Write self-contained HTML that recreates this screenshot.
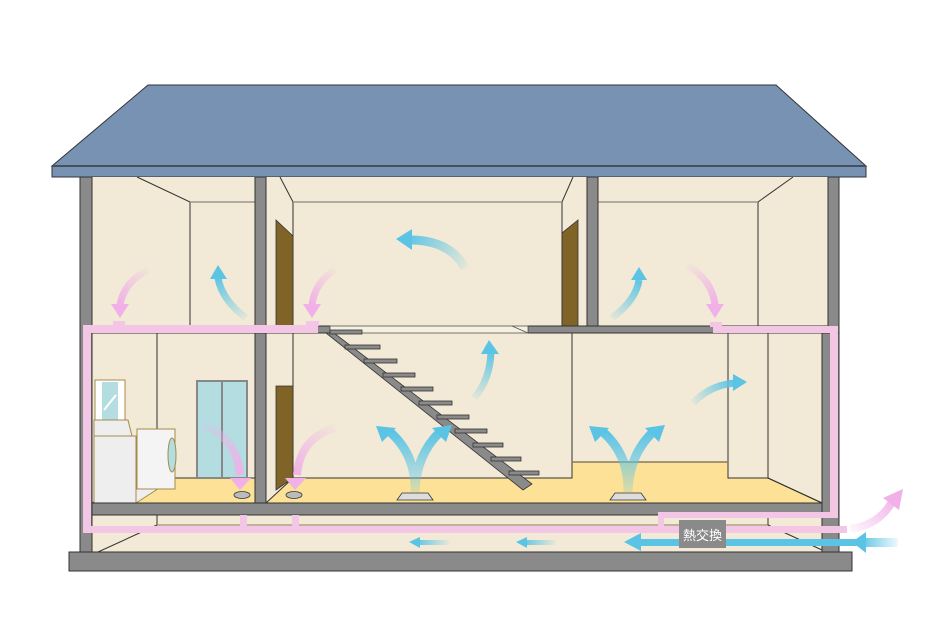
<!DOCTYPE html>
<html><head><meta charset="utf-8"><style>html,body{margin:0;padding:0;background:#fff}svg{display:block}</style></head>
<body>
<svg width="926" height="625" viewBox="0 0 926 625" xmlns="http://www.w3.org/2000/svg">
<defs>
<linearGradient id="b1" gradientUnits="userSpaceOnUse" x1="465" y1="268" x2="405" y2="239"><stop offset="0" stop-color="#5bc4e5" stop-opacity="0.1"/><stop offset="1" stop-color="#5bc4e5"/></linearGradient>
<linearGradient id="b2" gradientUnits="userSpaceOnUse" x1="246" y1="318" x2="218" y2="275"><stop offset="0" stop-color="#5bc4e5" stop-opacity="0.1"/><stop offset="1" stop-color="#5bc4e5"/></linearGradient>
<linearGradient id="b3" gradientUnits="userSpaceOnUse" x1="612" y1="318" x2="638" y2="278"><stop offset="0" stop-color="#5bc4e5" stop-opacity="0.1"/><stop offset="1" stop-color="#5bc4e5"/></linearGradient>
<linearGradient id="b4" gradientUnits="userSpaceOnUse" x1="474" y1="398" x2="491" y2="350"><stop offset="0" stop-color="#5bc4e5" stop-opacity="0.1"/><stop offset="1" stop-color="#5bc4e5"/></linearGradient>
<linearGradient id="b5" gradientUnits="userSpaceOnUse" x1="693" y1="403" x2="735" y2="383"><stop offset="0" stop-color="#5bc4e5" stop-opacity="0.1"/><stop offset="1" stop-color="#5bc4e5"/></linearGradient>
<linearGradient id="by" gradientUnits="objectBoundingBox" x1="0" y1="1" x2="0" y2="0"><stop offset="0" stop-color="#5bc4e5" stop-opacity="0.2"/><stop offset="1" stop-color="#5bc4e5"/></linearGradient>
<linearGradient id="bin" gradientUnits="userSpaceOnUse" x1="898" y1="0" x2="860" y2="0"><stop offset="0" stop-color="#5bc4e5" stop-opacity="0.1"/><stop offset="1" stop-color="#5bc4e5"/></linearGradient>
<linearGradient id="bd1" gradientUnits="userSpaceOnUse" x1="450" y1="0" x2="415" y2="0"><stop offset="0" stop-color="#5bc4e5" stop-opacity="0.05"/><stop offset="1" stop-color="#5bc4e5"/></linearGradient>
<linearGradient id="bd2" gradientUnits="userSpaceOnUse" x1="556" y1="0" x2="522" y2="0"><stop offset="0" stop-color="#5bc4e5" stop-opacity="0.05"/><stop offset="1" stop-color="#5bc4e5"/></linearGradient>
<linearGradient id="p1" gradientUnits="userSpaceOnUse" x1="148" y1="270" x2="120" y2="305"><stop offset="0" stop-color="#f1b0e8" stop-opacity="0.1"/><stop offset="1" stop-color="#f1b0e8"/></linearGradient>
<linearGradient id="p2" gradientUnits="userSpaceOnUse" x1="335" y1="270" x2="312" y2="305"><stop offset="0" stop-color="#f1b0e8" stop-opacity="0.1"/><stop offset="1" stop-color="#f1b0e8"/></linearGradient>
<linearGradient id="p3" gradientUnits="userSpaceOnUse" x1="688" y1="266" x2="715" y2="305"><stop offset="0" stop-color="#f1b0e8" stop-opacity="0.1"/><stop offset="1" stop-color="#f1b0e8"/></linearGradient>
<linearGradient id="p4" gradientUnits="userSpaceOnUse" x1="203" y1="425" x2="240" y2="478"><stop offset="0" stop-color="#f1b0e8" stop-opacity="0.1"/><stop offset="1" stop-color="#f1b0e8"/></linearGradient>
<linearGradient id="p5" gradientUnits="userSpaceOnUse" x1="335" y1="428" x2="297" y2="478"><stop offset="0" stop-color="#f1b0e8" stop-opacity="0.1"/><stop offset="1" stop-color="#f1b0e8"/></linearGradient>
<linearGradient id="pout" gradientUnits="userSpaceOnUse" x1="850" y1="530" x2="898" y2="495"><stop offset="0" stop-color="#f1b0e8" stop-opacity="0.1"/><stop offset="1" stop-color="#f1b0e8"/></linearGradient>
</defs>

<!-- roof -->
<polygon points="148,85 776,85 866,166 52,166" fill="#7892b4" stroke="#333" stroke-width="1"/>
<rect x="52" y="166" width="814" height="11" fill="#7892b4" stroke="#333" stroke-width="1"/>
<line x1="52" y1="166" x2="866" y2="166" stroke="#44505e" stroke-width="2"/>

<!-- interior fill -->
<rect x="92" y="177" width="736" height="375" fill="#f2ead6"/>

<!-- 2F perspective lines -->
<g stroke="#333" stroke-width="1" fill="none">
<polyline points="137,177 190,202 255,202"/><line x1="190" y1="202" x2="190" y2="326"/>
<polyline points="280,177 293,202 562,202 573,177"/><line x1="293" y1="202" x2="293" y2="326"/><line x1="562" y1="202" x2="562" y2="326"/>
<polyline points="598,202 758,202 793,177"/><line x1="758" y1="202" x2="758" y2="326"/>
</g>
<g stroke="#888" stroke-width="1.2"><line x1="190" y1="202" x2="255" y2="202"/><line x1="293" y1="202" x2="562" y2="202"/><line x1="598" y1="202" x2="758" y2="202"/></g>
<!-- doors 2F -->
<polygon points="276,220 293,236 293,326 276,326" fill="#7f6327" stroke="#333" stroke-width="0.8"/>
<polygon points="578,220 562,233 562,326 578,326" fill="#7f6327" stroke="#333" stroke-width="0.8"/>

<!-- 1F -->
<g stroke="#333" stroke-width="1" fill="none">
<line x1="157" y1="333" x2="157" y2="478"/>
<line x1="293" y1="333" x2="293" y2="478"/>
<line x1="572" y1="333" x2="572" y2="462"/>
</g>
<polygon points="92,503 137,478 255,478 255,503" fill="#fde196" stroke="#333" stroke-width="1"/>
<polygon points="266,503 293,478 572,478 572,462 728,462 728,478 768,478 822,503" fill="#fde196" stroke="#333" stroke-width="1"/>
<rect x="728" y="333" width="40" height="145" fill="#f2ead6" stroke="#333" stroke-width="1"/>
<line x1="768" y1="478" x2="822" y2="503" stroke="#333"/>
<line x1="572" y1="462" x2="728" y2="462" stroke="#8a7a5a" stroke-width="1.5"/>
<!-- door 1F -->
<polygon points="276,386 293,386 293,478 276,490" fill="#7f6327" stroke="#333" stroke-width="0.8"/>

<!-- bathroom -->
<rect x="197" y="381" width="50" height="97" fill="#b3dde0" stroke="#888" stroke-width="2"/>
<line x1="222" y1="382" x2="222" y2="478" stroke="#888" stroke-width="2"/>
<rect x="95" y="380" width="30" height="42" fill="#fff" stroke="#a58a4a" stroke-width="1"/>
<rect x="102" y="382" width="16" height="38" fill="#b3dde0"/>
<line x1="104" y1="410" x2="116" y2="395" stroke="#fff" stroke-width="2"/>
<polygon points="94,420 128,420 132,436 94,436" fill="#eee" stroke="#a58a4a" stroke-width="1"/>
<rect x="94" y="436" width="42" height="67" fill="#eee" stroke="#a58a4a" stroke-width="1"/>
<polygon points="136,436 164,436 164,485 136,503" fill="#eee" stroke="#a58a4a" stroke-width="1"/>
<rect x="137" y="429" width="38" height="60" fill="#f4f4f4" stroke="#a58a4a" stroke-width="1"/>
<ellipse cx="172" cy="455" rx="4" ry="17" fill="#b3dde0" stroke="#a58a4a"/>

<!-- crawl space lines -->
<g stroke="#333" stroke-width="1" fill="none">
<line x1="157" y1="515" x2="157" y2="525"/><line x1="98" y1="552" x2="157" y2="525"/>
<line x1="157" y1="525" x2="768" y2="525" stroke="#8a7a5a"/>
<line x1="768" y1="515" x2="768" y2="525"/><line x1="768" y1="525" x2="822" y2="550"/>
</g>

<!-- walls -->
<g fill="#8a8a8a" stroke="#333" stroke-width="1">
<rect x="80" y="177" width="12" height="377"/>
<rect x="255" y="177" width="11" height="326"/>
<rect x="587" y="177" width="11" height="149"/>
<rect x="828" y="177" width="11" height="156"/>
<rect x="822" y="333" width="17" height="221"/>
<rect x="92" y="326" width="238" height="7"/>
<rect x="528" y="326" width="300" height="7"/>
<rect x="92" y="503" width="730" height="12"/>
<rect x="69" y="552" width="783" height="19"/>
</g>
<rect x="330" y="326" width="198" height="7" fill="#f5f0e0" stroke="#555" stroke-width="0.8"/>
<line x1="512" y1="326" x2="528" y2="333" stroke="#555" stroke-width="0.8"/>

<!-- stairs -->
<g fill="#8a8a8a" stroke="#333" stroke-width="0.8">
<polygon points="326,333 334,333 532,484 523,490"/>
<rect x="330" y="330" width="32" height="4"/>
<rect x="345" y="345" width="35" height="4"/>
<rect x="364" y="359" width="33" height="4"/>
<rect x="383" y="373" width="32" height="4"/>
<rect x="401" y="387" width="32" height="4"/>
<rect x="419" y="401" width="33" height="4"/>
<rect x="437" y="415" width="32" height="4"/>
<rect x="455" y="429" width="32" height="4"/>
<rect x="473" y="443" width="30" height="4"/>
<rect x="491" y="457" width="30" height="4"/>
<rect x="509" y="471" width="30" height="4"/>
</g>

<!-- pink ducts -->
<g fill="#f3c6e6">
<rect x="83" y="325" width="235" height="8"/>
<rect x="83" y="325" width="8" height="208"/>
<rect x="83" y="526" width="764" height="7"/>
<rect x="713" y="326" width="125" height="7"/>
<rect x="830" y="326" width="8" height="192"/>
<rect x="658" y="512" width="180" height="6"/>
<rect x="658" y="512" width="6" height="16"/>
<rect x="240" y="515" width="7" height="12"/>
<rect x="292" y="515" width="7" height="12"/>
<rect x="113" y="321" width="12" height="5"/>
<rect x="306" y="321" width="13" height="5"/>
<rect x="710" y="322" width="12" height="5"/>
</g>

<!-- vents -->
<ellipse cx="242" cy="495" rx="8" ry="3.5" fill="#bbb" stroke="#333" stroke-width="0.8"/>
<ellipse cx="294" cy="495" rx="8" ry="3.5" fill="#bbb" stroke="#333" stroke-width="0.8"/>
<polygon points="397,500 402,493 428,493 433,500" fill="#ddd" stroke="#333" stroke-width="0.8"/>
<polygon points="610,500 615,493 641,493 646,500" fill="#ddd" stroke="#333" stroke-width="0.8"/>

<!-- blue arrows -->
<path d="M465,268 Q450,240 410,240" stroke="url(#b1)" stroke-width="9" fill="none"/>
<polygon points="396,239 412,229 412,250" fill="#5bc4e5"/>
<path d="M246,318 Q222,300 218,278" stroke="url(#b2)" stroke-width="7" fill="none"/>
<polygon points="218,265 210,279 227,279" fill="#5bc4e5"/>
<path d="M612,318 Q636,300 639,280" stroke="url(#b3)" stroke-width="7" fill="none"/>
<polygon points="639,267 631,280 647,280" fill="#5bc4e5"/>
<path d="M474,398 Q490,380 491,352" stroke="url(#b4)" stroke-width="7" fill="none"/>
<polygon points="489,340 481,354 499,354" fill="#5bc4e5"/>
<path d="M693,403 Q710,385 735,383" stroke="url(#b5)" stroke-width="7" fill="none"/>
<polygon points="747,382 733,374 733,391" fill="#5bc4e5"/>
<g>
<path d="M415,492 Q416,455 390,432 M415,492 Q416,455 440,432" stroke="url(#by)" stroke-width="9" fill="none"/>
<polygon points="376,426 396,428 382,442" fill="#5bc4e5"/>
<polygon points="452,425 432,428 446,442" fill="#5bc4e5"/>
<path d="M628,492 Q629,455 603,432 M628,492 Q629,455 653,432" stroke="url(#by)" stroke-width="9" fill="none"/>
<polygon points="589,426 609,428 595,442" fill="#5bc4e5"/>
<polygon points="665,425 645,428 659,442" fill="#5bc4e5"/>
</g>

<!-- pink arrows -->
<path d="M148,270 Q124,282 120,305" stroke="url(#p1)" stroke-width="7" fill="none"/>
<polygon points="120,318 111,304 129,304" fill="#f1b0e8"/>
<path d="M335,270 Q315,282 312,305" stroke="url(#p2)" stroke-width="7" fill="none"/>
<polygon points="312,318 303,304 321,304" fill="#f1b0e8"/>
<path d="M688,266 Q712,280 715,305" stroke="url(#p3)" stroke-width="7" fill="none"/>
<polygon points="715,318 706,304 724,304" fill="#f1b0e8"/>
<path d="M203,425 Q237,438 240,475" stroke="url(#p4)" stroke-width="8" fill="none"/>
<polygon points="240,490 230,478 251,478" fill="#f1b0e8"/>
<path d="M335,428 Q300,438 297,475" stroke="url(#p5)" stroke-width="8" fill="none"/>
<polygon points="295,490 285,478 306,478" fill="#f1b0e8"/>
<path d="M850,529 Q880,525 893,500" stroke="url(#pout)" stroke-width="8" fill="none"/>
<polygon points="903,489 883,498 899,510" fill="#f1b0e8"/>

<!-- supply line -->
<rect x="640" y="539" width="218" height="7" fill="#5bc4e5"/>
<polygon points="624,542 641,533 641,551" fill="#5bc4e5"/>
<rect x="862" y="538" width="36" height="9" fill="url(#bin)"/>
<polygon points="852,542 866,532 866,553" fill="#5bc4e5"/>
<rect x="418" y="540" width="32" height="5" fill="url(#bd1)"/>
<polygon points="409,542 420,537 420,548" fill="#5bc4e5"/>
<rect x="525" y="540" width="31" height="5" fill="url(#bd2)"/>
<polygon points="516,542 527,537 527,548" fill="#5bc4e5"/>

<!-- heat exchanger -->
<rect x="679" y="520" width="47" height="28" fill="#8a8a8a"/>
<text x="702.5" y="540" text-anchor="middle" font-family="Liberation Sans, Noto Sans CJK JP, sans-serif" font-size="13" fill="#fff">熱交換</text>
</svg>
</body></html>
